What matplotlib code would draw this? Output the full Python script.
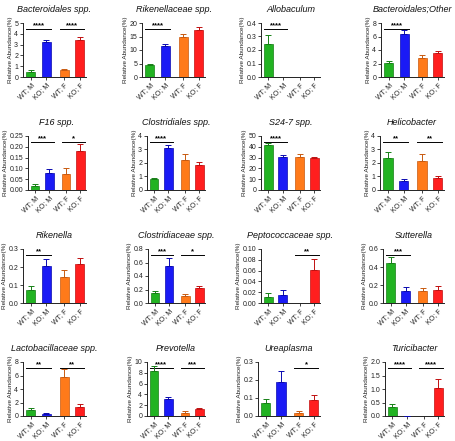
import matplotlib
matplotlib.use("Agg")
import matplotlib.pyplot as plt
import numpy as np

groups = ["WT; M", "KO; M", "WT; F", "KO; F"]
colors = ["#22B322", "#1A1AF5", "#FF7A1A", "#FF1E1E"]
edge_colors = ["#168016", "#0A0AB0", "#C85A10", "#C01010"]

titles = ["Bacteroidales spp.", "Rikenellaceae spp.", "Allobaculum", "Bacteroidales;Other",
          "F16 spp.", "Clostridiales spp.", "S24-7 spp.", "Helicobacter",
          "Rikenella", "Clostridiaceae spp.", "Peptococcaceae spp.", "Sutterella",
          "Lactobacillaceae spp.", "Prevotella", "Ureaplasma", "Turicibacter"]

means = [
    [0.5, 3.2, 0.65, 3.45],
    [4.5, 11.5, 15.0, 17.5],
    [0.245, 0.0, 0.0, 0.0],
    [2.1, 6.4, 2.8, 3.5],
    [0.017, 0.078, 0.072, 0.18],
    [0.78, 3.1, 2.25, 1.88],
    [42.0, 31.0, 31.0, 29.5],
    [2.35, 0.65, 2.15, 0.88],
    [0.072, 0.205, 0.145, 0.215],
    [0.145, 0.545, 0.11, 0.22],
    [0.011, 0.015, 0.0, 0.062],
    [0.44, 0.13, 0.13, 0.145],
    [0.9, 0.25, 5.8, 1.3],
    [8.4, 3.1, 0.6, 1.3],
    [0.075, 0.19, 0.018, 0.09],
    [0.35, 0.01, 0.0, 1.05],
]
errors = [
    [0.12, 0.25, 0.12, 0.3],
    [0.5, 0.8, 1.0, 0.9],
    [0.065, 0.0, 0.0, 0.0],
    [0.3, 0.6, 0.5, 0.35],
    [0.01, 0.02, 0.028, 0.035],
    [0.12, 0.25, 0.42, 0.2],
    [1.5, 1.5, 2.5, 1.5],
    [0.5, 0.13, 0.5, 0.12],
    [0.022, 0.042, 0.04, 0.033],
    [0.03, 0.12, 0.03, 0.03],
    [0.007, 0.009, 0.0, 0.02],
    [0.075, 0.045, 0.04, 0.04],
    [0.3, 0.15, 1.2, 0.45],
    [0.8, 0.35, 0.25, 0.2],
    [0.022, 0.062, 0.012, 0.025],
    [0.09, 0.005, 0.0, 0.33],
]
ymax = [5, 20, 0.4, 8, 0.25, 4, 50, 4, 0.3, 0.8, 0.10, 0.6, 8, 10, 0.3, 2.0]
ystep = [1, 5, 0.1, 2, 0.05, 1, 10, 1, 0.1, 0.2, 0.02, 0.2, 2, 2, 0.1, 0.5]
ydec = [0, 0, 1, 0, 2, 0, 0, 0, 1, 1, 2, 1, 0, 0, 1, 1]
# significance: (group_i, group_j, label)
sig = [
    [(0, 1, "****"), (2, 3, "****")],
    [(0, 1, "****")],
    [(0, 1, "****")],
    [(0, 1, "****")],
    [(0, 1, "***"), (2, 3, "*")],
    [(0, 1, "****")],
    [(0, 1, "****")],
    [(0, 1, "**"), (2, 3, "**")],
    [(0, 1, "**")],
    [(0, 1, "***"), (2, 3, "*")],
    [(2, 3, "**")],
    [(0, 1, "***")],
    [(0, 1, "**"), (2, 3, "**")],
    [(0, 1, "****"), (2, 3, "***")],
    [(2, 3, "*")],
    [(0, 1, "****"), (2, 3, "****")],
]

W, H = 456, 441
fig = plt.figure(figsize=(W / 100, H / 100), dpi=100)
plt.rcParams['font.family'] = ['Liberation Sans', 'DejaVu Sans']

panel_left = [23, 142, 261, 381, 28, 147, 261, 380, 23, 148, 261, 383, 23, 147, 258, 385]
col_right = [86, 205, 320, 444]
row_top = [23, 136, 249, 362]
ah = 54
xpos = np.array([0, 1, 2.15, 3.15])

for k in range(16):
    r, c = divmod(k, 4)
    left = panel_left[k]
    aw = col_right[c] - left
    ax = fig.add_axes([left / W, 1 - (row_top[r] + ah) / H, aw / W, ah / H])
    for i in range(4):
        ax.bar(xpos[i], means[k][i], width=0.6, color=colors[i], edgecolor=edge_colors[i],
               linewidth=0.5, zorder=2)
        if errors[k][i] > 0:
            ax.errorbar(xpos[i], means[k][i], yerr=[[0], [errors[k][i]]], fmt='none',
                        ecolor=edge_colors[i], elinewidth=0.7, capsize=2.2, capthick=0.7, zorder=3)
    ax.set_xlim(-0.5, 3.55)
    ax.set_ylim(0, ymax[k])
    ticks = np.arange(0, ymax[k] + ystep[k] / 2, ystep[k])
    ax.set_yticks(ticks)
    ax.set_yticklabels([f"{v:.{ydec[k]}f}" for v in ticks])
    ax.set_xticks(xpos)
    ax.set_xticklabels(groups, rotation=45, ha='right', rotation_mode='anchor')
    ax.tick_params(axis='both', labelsize=5, length=2, width=0.6, pad=1.5, colors='#222222')
    for s in ['top', 'right']:
        ax.spines[s].set_visible(False)
    for s in ['left', 'bottom']:
        ax.spines[s].set_linewidth(0.7)
        ax.spines[s].set_color('#222222')
    ax.set_title(titles[k], fontsize=6.5, style='italic', pad=8, color='#111111')
    ax.set_ylabel("Relative Abundance(%)", fontsize=4.6, labelpad=1, color='#222222')
    for (a, b, lab) in sig[k]:
        yl = ymax[k] * 0.885
        ax.plot([xpos[a] - 0.3, xpos[b] + 0.3], [yl, yl], color='black', lw=0.7, clip_on=False)
        ax.text((xpos[a] + xpos[b]) / 2, yl + ymax[k] * 0.005, lab, ha='center', va='bottom',
                fontsize=5.5, fontweight='bold', color='black')

fig.savefig("out.png", dpi=100)
